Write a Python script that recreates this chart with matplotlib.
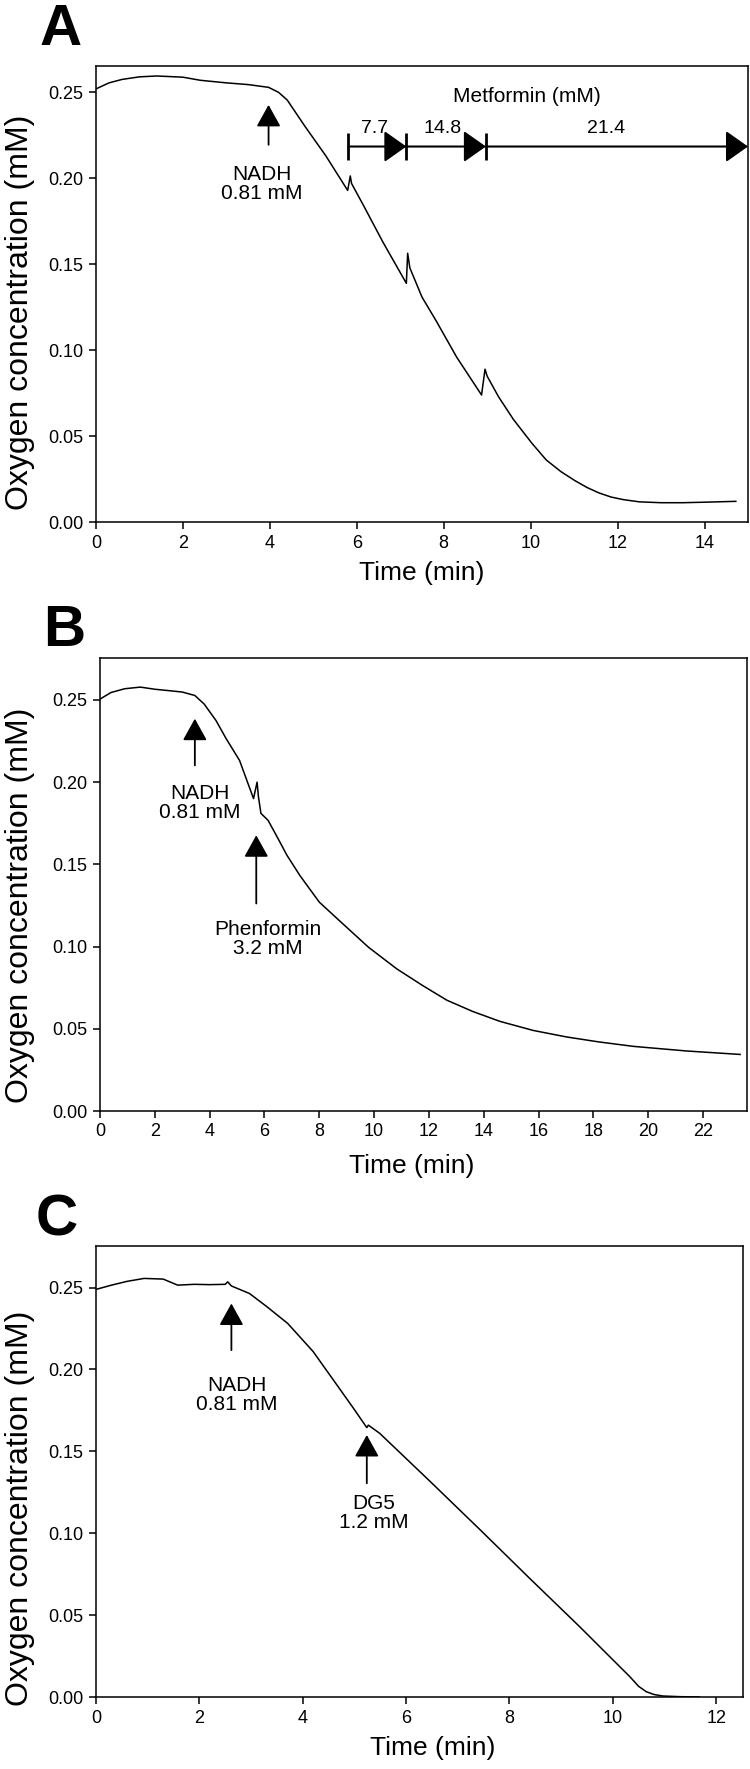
import numpy as np
import matplotlib
matplotlib.use('Agg')
import matplotlib.pyplot as plt

plt.rcParams['font.family'] = ['Liberation Sans', 'DejaVu Sans']

# Panel A - metformin
time_a = [0, 0.3, 0.6, 1.0, 1.4, 2.0, 2.4, 3.0, 3.5, 3.97, 4.2, 4.4, 4.8, 5.29, 5.79, 5.85, 5.88,
          6.17, 6.6, 7.14, 7.17, 7.22, 7.5, 7.83, 8.3, 8.87, 8.95, 9.0, 9.26, 9.6, 10.03, 10.36,
          10.7, 11.02, 11.3, 11.57, 11.85, 12.13, 12.5, 13.0, 13.5, 14.0, 14.72]
o2_a = [0.252, 0.2555, 0.2575, 0.259, 0.2595, 0.2588, 0.257, 0.2555, 0.2545, 0.2529, 0.250, 0.2455,
        0.2305, 0.213, 0.193, 0.2014, 0.197, 0.1835, 0.163, 0.139, 0.1565, 0.148, 0.131, 0.117,
        0.096, 0.0741, 0.0891, 0.085, 0.0731, 0.060, 0.046, 0.0363, 0.0295, 0.0243, 0.0203,
        0.0172, 0.0148, 0.0133, 0.012, 0.0115, 0.0115, 0.0118, 0.0123]

# Panel B - phenformin
time_b = [0, 0.4, 0.9, 1.47, 2.0, 2.6, 3.0, 3.46, 3.8, 4.23, 4.6, 5.09, 5.6, 5.73, 5.78, 5.87,
          6.13, 6.5, 6.82, 7.3, 8.0, 8.88, 9.8, 10.82, 11.75, 12.65, 13.6, 14.59, 15.8, 17.03,
          18.2, 19.46, 21.4, 23.35]
o2_b = [0.2505, 0.2545, 0.2568, 0.2578, 0.2565, 0.2555, 0.2548, 0.2527, 0.2475, 0.2375, 0.2265,
        0.2132, 0.19, 0.200, 0.191, 0.181, 0.1768, 0.1655, 0.1555, 0.143, 0.127, 0.1135, 0.0995,
        0.0865, 0.0765, 0.0674, 0.0605, 0.0545, 0.049, 0.0450, 0.0420, 0.0393, 0.0365, 0.0344]

# Panel C - DG5
time_c = [0, 0.3, 0.6, 0.93, 1.3, 1.58, 1.9, 2.2, 2.5, 2.55, 2.62, 2.97, 3.3, 3.71, 4.2, 4.64,
          5.0, 5.24, 5.27, 5.49, 6.46, 7.43, 8.39, 9.36, 10.33, 10.5, 10.65, 10.8, 10.97, 11.3,
          11.68]
o2_c = [0.2489, 0.2515, 0.2538, 0.2556, 0.2552, 0.2515, 0.252, 0.2518, 0.252, 0.2535, 0.251,
        0.2464, 0.2385, 0.2281, 0.211, 0.1915, 0.1755, 0.1645, 0.166, 0.161, 0.1318, 0.1022,
        0.0725, 0.0429, 0.0124, 0.0065, 0.0032, 0.0015, 0.0006, 0.0002, 0.0]

metformin_bounds = [5.80, 7.14, 8.97, 15.0]
metformin_doses = ['7.7', '14.8', '21.4']
metformin_label_x = [6.41, 7.97, 11.74]

W, H = 750, 1769
fig = plt.figure(figsize=(W / 100, H / 100), dpi=100)


def make_axes(left, right, top, bottom):
    return fig.add_axes([left / W, 1 - bottom / H, (right - left) / W, (bottom - top) / H])


def style(ax, xmax, ymax, xticks):
    ax.set_xlim(0, xmax)
    ax.set_ylim(0, ymax)
    ax.set_xticks(xticks)
    ax.set_yticks([0, 0.05, 0.10, 0.15, 0.20, 0.25])
    ax.set_yticklabels(['0.00', '0.05', '0.10', '0.15', '0.20', '0.25'])
    ax.tick_params(top=False, right=False, direction='out', length=5, width=1.1,
                   labelsize=13, pad=4)
    for s in ax.spines.values():
        s.set_linewidth(1.1)


def arrow(ax, x, y0, y1):
    ax.annotate('', xy=(x, y1), xytext=(x, y0),
                arrowprops=dict(arrowstyle='-|>,head_length=0.9,head_width=0.5',
                                mutation_scale=15, lw=1.3, color='k',
                                shrinkA=0, shrinkB=0))


axA = make_axes(96, 748, 66, 522.5)
axB = make_axes(100, 747, 658, 1111)
axC = make_axes(96, 742.5, 1246, 1697)

axA.plot(time_a, o2_a, color='k', lw=1.1)
axB.plot(time_b, o2_b, color='k', lw=1.1)
axC.plot(time_c, o2_c, color='k', lw=1.1)

style(axA, 15, 0.2653, range(0, 15, 2))
style(axB, 23.6, 0.2755, range(0, 23, 2))
style(axC, 12.51, 0.2754, range(0, 13, 2))

# Panel A annotations
arrow(axA, 3.97, 0.2195, 0.2427)
axA.text(3.81, 0.1965, 'NADH\n0.81 mM', ha='center', va='center', fontsize=15, linespacing=1.0)
axA.text(9.92, 0.2476, 'Metformin (mM)', ha='center', va='center', fontsize=15)
y_bar = 0.2185
for i in range(3):
    axA.annotate('', xy=(metformin_bounds[i + 1], y_bar), xytext=(metformin_bounds[i], y_bar),
                 arrowprops=dict(arrowstyle='-|>,head_length=0.92,head_width=0.65',
                                 mutation_scale=15, lw=1.5, color='k',
                                 shrinkA=0, shrinkB=0), annotation_clip=False)
    axA.text(metformin_label_x[i], 0.2292, metformin_doses[i], ha='center', va='center',
             fontsize=14)
axA.vlines(metformin_bounds[:3], 0.2105, 0.2264, color='k', lw=2.0)

# Panel B annotations
arrow(axB, 3.46, 0.2102, 0.2386)
axB.text(3.63, 0.1872, 'NADH\n0.81 mM', ha='center', va='center', fontsize=15, linespacing=1.0)
arrow(axB, 5.7, 0.1262, 0.1677)
axB.text(6.13, 0.1044, 'Phenformin\n3.2 mM', ha='center', va='center', fontsize=15,
         linespacing=1.0)

# Panel C annotations
arrow(axC, 2.62, 0.2118, 0.2403)
axC.text(2.72, 0.1843, 'NADH\n0.81 mM', ha='center', va='center', fontsize=15, linespacing=1.0)
arrow(axC, 5.24, 0.1305, 0.160)
axC.text(5.38, 0.1121, 'DG5\n1.2 mM', ha='center', va='center', fontsize=15, linespacing=1.0)

# Axis labels and panel letters
for yc in [312, 905, 1508]:
    fig.text(20 / W, 1 - yc / H, 'Oxygen concentration (mM)', rotation=90,
             ha='center', va='center', fontsize=23)
for xc, yc in [(422, 573), (412, 1166), (433, 1748)]:
    fig.text(xc / W, 1 - yc / H, 'Time (min)', ha='center', va='center', fontsize=19)
for letter, xl, yb in [('A', 40, 45), ('B', 43, 646), ('C', 36, 1235)]:
    fig.text(xl / W, 1 - yb / H, letter, ha='left', va='baseline', fontsize=42,
             fontweight='bold')

fig.savefig('out.png', dpi=100)
